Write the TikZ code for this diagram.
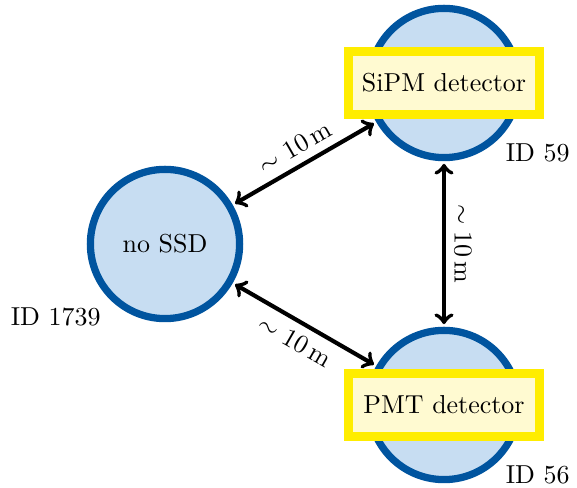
\documentclass[tikz,border=0pt]{standalone}
\usepackage{amsmath}
\usepackage{xcolor}
\usetikzlibrary{positioning}

\definecolor{stblue}{RGB}{0,84,159}
\definecolor{stbluelight}{RGB}{199,221,242}
\definecolor{detyellow}{RGB}{255,237,0}
\definecolor{detyellowlight}{RGB}{255,250,209}

\begin{document}
\begin{tikzpicture}[x=0.3853pt, y=-0.3853pt,
    station/.style={circle, draw=stblue, fill=stbluelight, line width=2.8pt,
      minimum size=57.5pt, inner sep=0pt},
    detector/.style={rectangle, draw=detyellow, fill=detyellowlight, line width=3.6pt,
      minimum width=73.8pt, minimum height=24.1pt, inner sep=0pt},
    idlabel/.style={inner sep=1pt},
    dist/.style={<->, line width=1.6pt, shorten <=1pt, shorten >=1pt}]
  \useasboundingbox (0,0) rectangle (577,488);

  \node[station] (nossd) at (165,244) {no SSD};
  \node[station] (sipm) at (444,83) {};
  \node[station] (pmt) at (444,405) {};

  \node[detector] (sipmdet) at (sipm.center) {SiPM detector};
  \node[detector] (pmtdet) at (pmt.center) {PMT detector};

  \node[idlabel, below right=0.8pt and 1.3pt of sipm.south east] (id59) {ID 59};
  \node[idlabel, below right=0.8pt and 1.3pt of pmt.south east] (id56) {ID 56};
  \node[idlabel, below left=2pt and 2.3pt of nossd.south west] (id1739) {ID 1739};

  \draw[dist] (nossd) -- node[sloped, above] {$\sim 10\,\mathrm{m}$} (sipm);
  \draw[dist] (nossd) -- node[sloped, below] {$\sim 10\,\mathrm{m}$} (pmt);
  \draw[dist] (sipm) -- node[sloped, above] {$\sim 10\,\mathrm{m}$} (pmt);
\end{tikzpicture}
\end{document}
